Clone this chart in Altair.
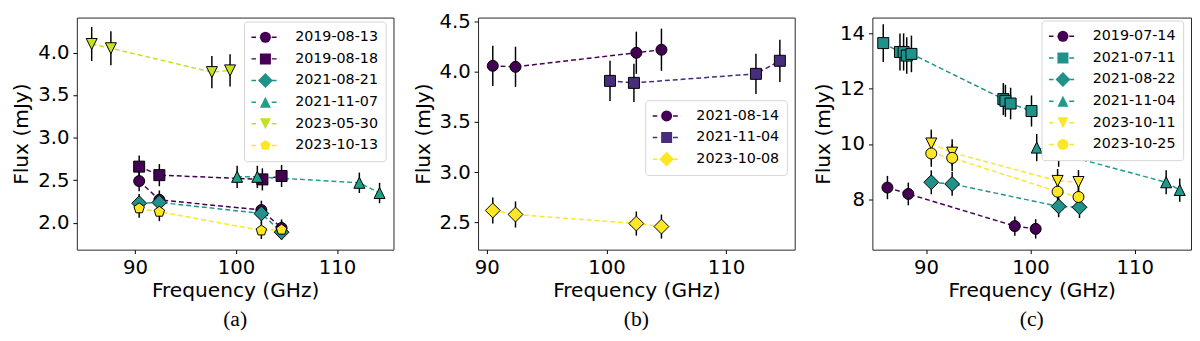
import altair as alt
import pandas as pd

# ---------------- marker shapes (unit paths) ----------------
CIRCLE = "circle"
SQUARE = "M-1,-1L1,-1L1,1L-1,1Z"
DIAMOND = "M0,-1.35L1.35,0L0,1.35L-1.35,0Z"
TRI_UP = "M0,-1L1,1L-1,1Z"
TRI_DOWN = "M0,1L1,-1L-1,-1Z"
PENTAGON = "M0,-1L0.951,-0.309L0.588,0.809L-0.588,0.809L-0.951,-0.309Z"
# legend line handle, left and right of the marker
LEG_LINE = "M-2.6,0L-1.15,0M1.15,0L2.6,0"

# ---------------- panel (a) ----------------
a_series = ["2019-08-13", "2019-08-18", "2021-08-21", "2021-11-07", "2023-05-30", "2023-10-13"]
a_colors = ["#440154", "#440154", "#21918c", "#1fa088", "#c8e020", "#fde725"]
a_shapes = [CIRCLE, SQUARE, DIAMOND, TRI_UP, TRI_DOWN, PENTAGON]
a_freq = [
    [90.4, 92.4, 102.5, 104.5],
    [90.4, 92.4, 102.6, 104.5],
    [90.4, 92.4, 102.5, 104.5],
    [100.1, 102.1, 112.2, 114.2],
    [85.7, 87.6, 97.6, 99.4],
    [90.4, 92.4, 102.5, 104.5],
]
a_flux = [
    [2.49, 2.27, 2.15, 1.94],
    [2.66, 2.56, 2.51, 2.55],
    [2.23, 2.24, 2.11, 1.89],
    [2.54, 2.54, 2.47, 2.35],
    [4.10, 4.05, 3.77, 3.79],
    [2.17, 2.13, 1.91, 1.92],
]
a_err = [
    [0.12, 0.11, 0.11, 0.10],
    [0.13, 0.13, 0.13, 0.13],
    [0.11, 0.11, 0.11, 0.09],
    [0.13, 0.13, 0.12, 0.12],
    [0.20, 0.20, 0.19, 0.19],
    [0.11, 0.11, 0.10, 0.10],
]

# ---------------- panel (b) ----------------
b_series = ["2021-08-14", "2021-11-04", "2023-10-08"]
b_colors = ["#440154", "#472d7b", "#fde725"]
b_shapes = [CIRCLE, SQUARE, DIAMOND]
b_freq = [
    [90.5, 92.4, 102.5, 104.6],
    [100.3, 102.3, 112.5, 114.5],
    [90.5, 92.4, 102.5, 104.6],
]
b_flux = [
    [4.06, 4.05, 4.19, 4.22],
    [3.91, 3.89, 3.98, 4.11],
    [2.62, 2.58, 2.49, 2.46],
]
b_err = [
    [0.20, 0.20, 0.21, 0.21],
    [0.20, 0.19, 0.20, 0.21],
    [0.13, 0.13, 0.12, 0.12],
]

# ---------------- panel (c) ----------------
c_series = ["2019-07-14", "2021-07-11", "2021-08-22", "2021-11-04", "2023-10-11", "2023-10-25"]
c_colors = ["#440154", "#21918c", "#21918c", "#1f9a8a", "#fde725", "#fde725"]
c_shapes = [CIRCLE, SQUARE, DIAMOND, TRI_UP, TRI_DOWN, CIRCLE]
c_freq = [
    [86.3, 88.3, 98.5, 100.5],
    [85.9, 87.5, 87.85, 88.15, 88.6, 97.4, 97.6, 98.1, 100.1],
    [90.5, 92.5, 102.7, 104.7],
    [100.6, 102.7, 113.0, 114.3],
    [90.5, 92.5, 102.6, 104.6],
    [90.5, 92.5, 102.6, 104.6],
]
c_flux = [
    [8.43, 8.20, 7.04, 6.94],
    [13.64, 13.32, 13.32, 13.19, 13.25, 11.62, 11.56, 11.46, 11.19],
    [8.62, 8.56, 7.75, 7.72],
    [9.87, 9.66, 8.62, 8.34],
    [10.02, 9.69, 8.67, 8.63],
    [9.66, 9.50, 8.28, 8.09],
]
c_err = [
    [0.42, 0.41, 0.35, 0.35],
    [0.68, 0.67, 0.67, 0.66, 0.66, 0.58, 0.58, 0.57, 0.56],
    [0.43, 0.43, 0.39, 0.39],
    [0.49, 0.48, 0.43, 0.42],
    [0.50, 0.48, 0.43, 0.43],
    [0.48, 0.48, 0.41, 0.40],
]

FONT = "DejaVu Sans"
MSIZE = 125


def make_df(series, freqs, fluxes, errs):
    rows = []
    for s, fs, ys, es in zip(series, freqs, fluxes, errs):
        for f, v, e in zip(fs, ys, es):
            rows.append({"date": s, "date_l": s, "freq": f, "flux": v,
                         "lo": v - e, "hi": v + e})
    return pd.DataFrame(rows)


def panel(series, colors, shapes, freqs, fluxes, errs, xdom, ydom, yvals, yfmt,
          W, H, legy, caption):
    df = make_df(series, freqs, fluxes, errs)
    xaxis = alt.Axis(values=[90, 100, 110], title="Frequency (GHz)", grid=False,
                     domain=False, tickSize=4, tickColor="black", labelPadding=4,
                     titlePadding=4, labelFontSize=20, titleFontSize=20.5,
                     labelFont=FONT, titleFont=FONT, titleFontWeight="normal",
                     labelColor="black", titleColor="black")
    yaxis = alt.Axis(values=yvals, format=yfmt, title="Flux (mJy)", grid=False,
                     domain=False, tickSize=4, tickColor="black", labelPadding=4,
                     titlePadding=6, labelFontSize=20, titleFontSize=20.5,
                     labelFont=FONT, titleFont=FONT, titleFontWeight="normal",
                     labelColor="black", titleColor="black")
    xs = alt.Scale(domain=xdom, nice=False, zero=False)
    ys = alt.Scale(domain=ydom, nice=False, zero=False)
    x = alt.X("freq:Q", scale=xs, axis=xaxis)

    legx = W - 7 - 145
    common = dict(orient="none", legendX=legx, legendY=legy, title=None,
                  symbolSize=MSIZE, padding=7.5, rowPadding=5, clipHeight=17,
                  labelFontSize=14.5, labelFont=FONT, labelColor="black",
                  labelOffset=23, symbolOffset=7)
    # dashed handle legend (drawn above the marker legend's box)
    line_leg = alt.Legend(symbolType=LEG_LINE, symbolStrokeWidth=1.5,
                          symbolDash=[5, 3], labelExpr="''", zindex=2, **common)
    # marker legend with the framed box
    mark_leg = alt.Legend(symbolStrokeColor="black", symbolStrokeWidth=1,
                          symbolOpacity=1, fillColor="white",
                          strokeColor="#d4d4d4", cornerRadius=3, zindex=1, **common)

    base = alt.Chart(df)
    lines = base.mark_line(strokeDash=[5, 3], strokeWidth=1.5).encode(
        x=x,
        y=alt.Y("flux:Q", scale=ys, axis=yaxis),
        color=alt.Color("date_l:N", scale=alt.Scale(range=colors), legend=line_leg),
        order=alt.Order("freq:Q"),
    )
    bars = base.mark_rule(color="black", strokeWidth=1.5).encode(
        x=x,
        y=alt.Y("lo:Q", scale=ys, axis=yaxis),
        y2="hi:Q",
    )
    pts = base.mark_point(filled=True, size=MSIZE, stroke="black", strokeWidth=1,
                          opacity=1, fillOpacity=1).encode(
        x=x,
        y=alt.Y("flux:Q", scale=ys, axis=yaxis),
        fill=alt.Fill("date:N", scale=alt.Scale(range=colors), legend=mark_leg),
        shape=alt.Shape("date:N", scale=alt.Scale(range=shapes), legend=mark_leg),
    )
    return alt.layer(lines, bars, pts).properties(
        width=W, height=H,
        title=alt.TitleParams(caption, orient="bottom", anchor="middle", frame="group",
                              font="Liberation Serif", fontSize=22,
                              fontWeight="normal", color="black", offset=8),
    ).resolve_legend(color="independent", fill="independent", shape="independent")


H = 236
pa = panel(a_series, a_colors, a_shapes, a_freq, a_flux, a_err,
           [84.23, 115.58], [1.685, 4.41], [2.0, 2.5, 3.0, 3.5, 4.0], ".1f",
           322, H, 4, "(a)")
pb = panel(b_series, b_colors, b_shapes, b_freq, b_flux, b_err,
           [89.27, 115.74], [2.23, 4.54], [2.5, 3.0, 3.5, 4.0, 4.5], ".1f",
           322, H, 84, "(b)")
pc = panel(c_series, c_colors, c_shapes, c_freq, c_flux, c_err,
           [84.86, 115.38], [6.19, 14.56], [8, 10, 12, 14], "d",
           324, H, 3, "(c)")

chart = alt.hconcat(pa, pb, pc, spacing=18).resolve_scale(
    x="independent", y="independent", color="independent",
    fill="independent", shape="independent",
).properties(
    padding={"left": 3, "top": 0, "right": 0, "bottom": 0}
).configure(font=FONT).configure_view(
    stroke="#262626", strokeWidth=1
)

chart.save("out.html", embed_options={"renderer": "svg", "actions": False})
